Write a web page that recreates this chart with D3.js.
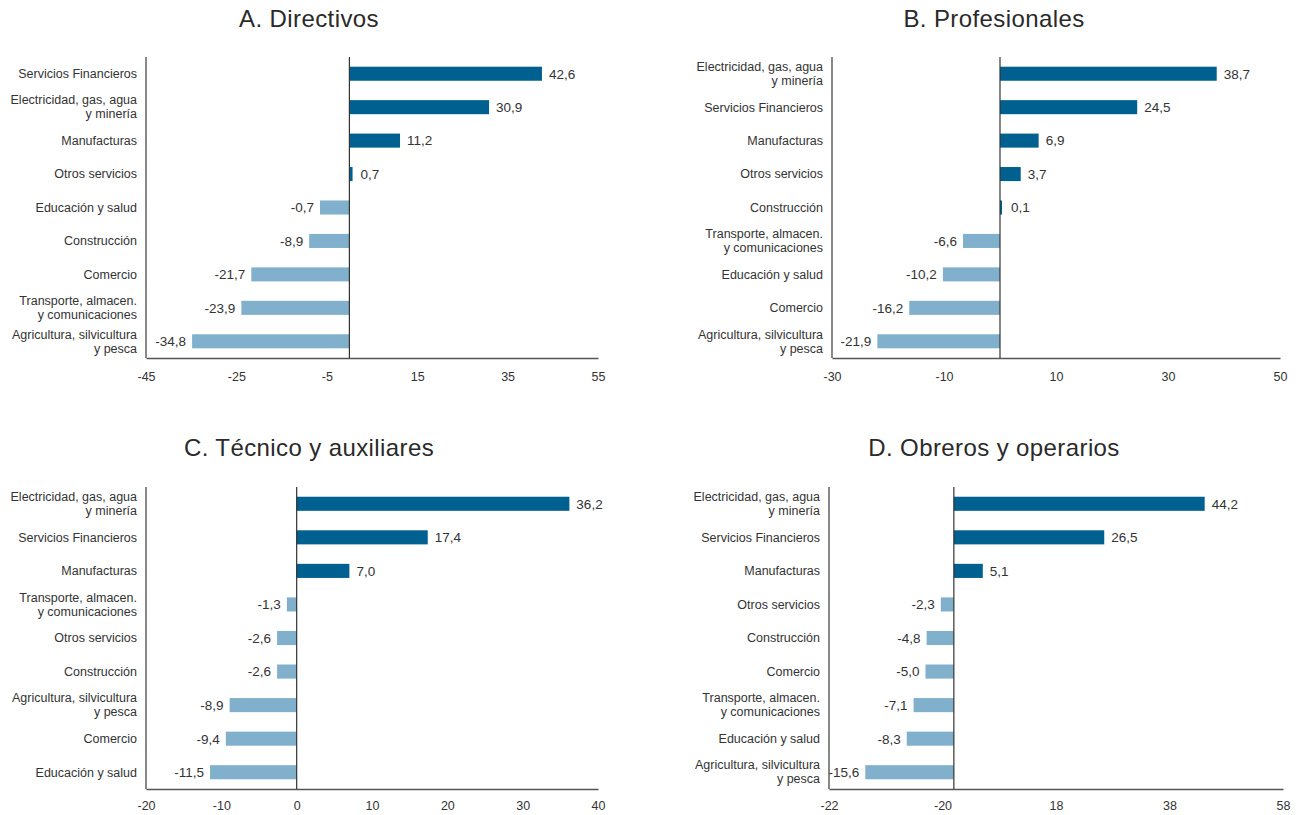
<!DOCTYPE html>
<html>
<head>
<meta charset="utf-8">
<script src="https://cdn.jsdelivr.net/npm/d3@7"></script>
<style>
  body { margin: 0; background: #fff; }
  svg { font-family: "Liberation Sans", Arial, sans-serif; }
</style>
</head>
<body>
<svg id="chart" width="1296" height="815"></svg>
<script>
// A. Directivos
const catA = ['Servicios Financieros', 'Electricidad, gas, agua|y minería', 'Manufacturas', 'Otros servicios',
  'Educación y salud', 'Construcción', 'Comercio', 'Transporte, almacen.|y comunicaciones', 'Agricultura, silvicultura|y pesca'];
const valA = [42.6, 30.9, 11.2, 0.7, -6.5, -8.9, -21.7, -23.9, -34.8];
const lblA = ['42,6', '30,9', '11,2', '0,7', '-0,7', '-8,9', '-21,7', '-23,9', '-34,8'];
const ticksA = [-45, -25, -5, 15, 35, 55];
const tickLblA = ['-45', '-25', '-5', '15', '35', '55'];

// B. Profesionales
const catB = ['Electricidad, gas, agua|y minería', 'Servicios Financieros', 'Manufacturas', 'Otros servicios',
  'Construcción', 'Transporte, almacen.|y comunicaciones', 'Educación y salud', 'Comercio', 'Agricultura, silvicultura|y pesca'];
const valB = [38.7, 24.5, 6.9, 3.7, 0.1, -6.6, -10.2, -16.2, -21.9];
const lblB = ['38,7', '24,5', '6,9', '3,7', '0,1', '-6,6', '-10,2', '-16,2', '-21,9'];
const ticksB = [-30, -10, 10, 30, 50];
const tickLblB = ['-30', '-10', '10', '30', '50'];

// C. Técnico y auxiliares
const catC = ['Electricidad, gas, agua|y minería', 'Servicios Financieros', 'Manufacturas', 'Transporte, almacen.|y comunicaciones',
  'Otros servicios', 'Construcción', 'Agricultura, silvicultura|y pesca', 'Comercio', 'Educación y salud'];
const valC = [36.2, 17.4, 7.0, -1.3, -2.6, -2.6, -8.9, -9.4, -11.5];
const lblC = ['36,2', '17,4', '7,0', '-1,3', '-2,6', '-2,6', '-8,9', '-9,4', '-11,5'];
const ticksC = [-20, -10, 0, 10, 20, 30, 40];
const tickLblC = ['-20', '-10', '0', '10', '20', '30', '40'];

// D. Obreros y operarios
const catD = ['Electricidad, gas, agua|y minería', 'Servicios Financieros', 'Manufacturas', 'Otros servicios',
  'Construcción', 'Comercio', 'Transporte, almacen.|y comunicaciones', 'Educación y salud', 'Agricultura, silvicultura|y pesca'];
const valD = [44.2, 26.5, 5.1, -2.3, -4.8, -5.0, -7.1, -8.3, -15.6];
const lblD = ['44,2', '26,5', '5,1', '-2,3', '-4,8', '-5,0', '-7,1', '-8,3', '-15,6'];
const ticksD = [-22, -2, 18, 38, 58];
const tickLblD = ['-22', '-20', '18', '38', '58'];

const DARK = '#00608f';
const LIGHT = '#80b0cb';
const svg = d3.select('#chart');

function panel(cfg) {
  const g = svg.append('g');

  const x = d3.scaleLinear().domain(cfg.domain).range([cfg.left, cfg.right]);
  const y = d3.scaleBand().domain(cfg.cats).range([cfg.top, cfg.bottom])
    .paddingInner(0.58).paddingOuter(0.29);

  g.append('text')
    .attr('x', cfg.titleX).attr('y', cfg.titleY)
    .attr('text-anchor', 'middle')
    .attr('font-size', 24)
    .attr('letter-spacing', 0.4)
    .attr('fill', '#2a2a2a')
    .text(cfg.title);

  // bars
  g.selectAll('rect.bar')
    .data(cfg.vals)
    .join('rect')
    .attr('class', 'bar')
    .attr('x', d => x(Math.min(0, d)))
    .attr('y', (d, i) => y(cfg.cats[i]))
    .attr('width', d => Math.max(2, Math.abs(x(d) - x(0))))
    .attr('height', y.bandwidth())
    .attr('fill', d => d >= 0 ? DARK : LIGHT);

  // value labels
  g.selectAll('text.val')
    .data(cfg.vals)
    .join('text')
    .attr('class', 'val')
    .attr('x', d => d >= 0 ? x(d) + Math.max(0, 4 - Math.abs(x(d) - x(0))) + 7 : x(d) - 6)
    .attr('y', (d, i) => y(cfg.cats[i]) + y.bandwidth() / 2)
    .attr('dy', '0.36em')
    .attr('text-anchor', d => d >= 0 ? 'start' : 'end')
    .attr('font-size', 13.5)
    .attr('fill', '#333')
    .text((d, i) => cfg.lbls[i]);

  // x axis
  const xaxis = d3.axisBottom(x)
    .tickValues(cfg.ticks)
    .tickFormat((d, i) => cfg.tickLbls[i])
    .tickSize(0)
    .tickSizeOuter(0)
    .tickPadding(cfg.tickPad);
  const xg = g.append('g')
    .attr('transform', `translate(0, ${cfg.bottom})`)
    .call(xaxis);
  xg.select('.domain').attr('stroke', '#555').attr('stroke-width', 1.4);
  xg.selectAll('text').attr('font-size', 12.5).attr('fill', '#333')
    .attr('font-family', '"Liberation Sans", Arial, sans-serif');

  // y axis with category labels
  const yaxis = d3.axisLeft(y).tickSize(0).tickSizeOuter(0).tickPadding(9);
  const yg = g.append('g')
    .attr('transform', `translate(${cfg.left}, 0)`)
    .call(yaxis);
  yg.select('.domain').attr('stroke', '#555').attr('stroke-width', 1.4)
    .attr('d', `M0,${cfg.top}V${cfg.bottom}`);
  yg.selectAll('text')
    .attr('font-size', 12.5).attr('fill', '#333')
    .attr('font-family', '"Liberation Sans", Arial, sans-serif')
    .each(function(d) {
      const t = d3.select(this);
      const parts = d.split('|');
      t.text(null).attr('dy', null);
      parts.forEach((p, k) => {
        t.append('tspan')
          .attr('x', -9)
          .attr('dy', k === 0 ? (parts.length > 1 ? '-0.22em' : '0.35em') : '1.12em')
          .text(p);
      });
    });

  // zero line
  g.append('line')
    .attr('x1', x(0)).attr('x2', x(0))
    .attr('y1', cfg.top).attr('y2', cfg.bottom)
    .attr('stroke', '#333').attr('stroke-width', 1.2);
}

panel({ title: 'A. Directivos', titleX: 309, titleY: 27, cats: catA, vals: valA, lbls: lblA,
  domain: [-45, 55], ticks: ticksA, tickLbls: tickLblA, left: 146, right: 598, top: 57, bottom: 358, tickPad: 14 });
panel({ title: 'B. Profesionales', titleX: 994, titleY: 27, cats: catB, vals: valB, lbls: lblB,
  domain: [-30, 50], ticks: ticksB, tickLbls: tickLblB, left: 832, right: 1280, top: 57, bottom: 358, tickPad: 14 });
panel({ title: 'C. Técnico y auxiliares', titleX: 309, titleY: 456, cats: catC, vals: valC, lbls: lblC,
  domain: [-20, 40], ticks: ticksC, tickLbls: tickLblC, left: 146, right: 598, top: 487, bottom: 789, tickPad: 12 });
panel({ title: 'D. Obreros y operarios', titleX: 994, titleY: 456, cats: catD, vals: valD, lbls: lblD,
  domain: [-22, 58], ticks: ticksD, tickLbls: tickLblD, left: 829, right: 1283, top: 487, bottom: 789, tickPad: 12 });
</script>
</body>
</html>
